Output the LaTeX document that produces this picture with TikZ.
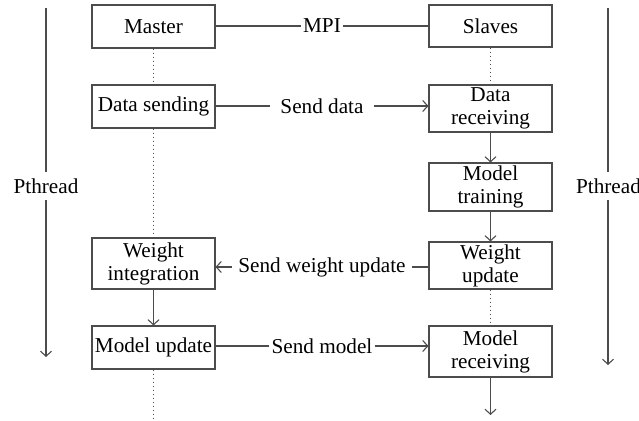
\documentclass[tikz,border=0pt]{standalone}
\usepackage{fontspec}
\setmainfont{Liberation Serif}
\usetikzlibrary{arrows.meta}
\begin{document}
\begin{tikzpicture}[x=0.5pt,y=-0.5pt,
  font=\fontsize{10.6}{11.5}\selectfont,
  ln/.style={draw=black!70, line width=0.55pt},
  box/.style={ln, minimum width=61.5pt, inner sep=1pt, align=center, text=black},
  dots/.style={draw=black!70, line width=0.55pt, dash pattern=on 0.5pt off 1.5pt},
  arr/.style={ln, -{Straight Barb[length=2.5pt,width=5.5pt]}},
  lbl/.style={inner ysep=1pt, text=black}
]
\useasboundingbox (0,0) rectangle (639,421);

% process boxes
\node[box, minimum height=21.5pt] (master) at (153.5,26.5) {Master};
\node[box, minimum height=21pt]   (slaves) at (490.5,26)   {Slaves};
\node[box, minimum height=21.5pt] (dsend)  at (153.5,106.5) {Data sending};
\node[box, minimum height=23.5pt] (drecv)  at (490.5,108.5) {Data\\receiving};
\node[box, minimum height=24pt]   (mtrain) at (490.5,187)   {Model\\training};
\node[box, minimum height=23.5pt] (wupd)   at (490.5,265.5) {Weight\\update};
\node[box, minimum height=25.5pt] (wint)   at (153.5,263.5) {Weight\\integration};
\node[box, minimum height=21.5pt] (mupd)   at (153.5,347.5) {Model update};
\node[box, minimum height=25.5pt] (mrecv)  at (490.5,351.5) {Model\\receiving};

% message labels
\node[lbl, inner xsep=1pt] (lmpi) at (322,26)  {MPI};
\node[lbl, inner xsep=5pt] (lsd)  at (322,106) {Send data};
\node[lbl, inner xsep=3pt] (lswu) at (322,267) {Send weight update};
\node[lbl, inner xsep=1pt] (lsm)  at (322,346) {Send model};

% messages between master and slaves
\draw[ln]  (master.east |- lmpi) -- (lmpi.west);
\draw[ln]  (lmpi.east) -- (slaves.west |- lmpi);
\draw[ln]  (dsend.east |- lsd) -- (lsd.west);
\draw[arr] (lsd.east) -- (drecv.west |- lsd);
\draw[ln]  (wupd.west |- lswu) -- (lswu.east);
\draw[arr] (lswu.west) -- (wint.east |- lswu);
\draw[ln]  (mupd.east |- lsm) -- (lsm.west);
\draw[arr] (lsm.east) -- (mrecv.west |- lsm);

% local flow
\draw[arr] (drecv) -- (mtrain);
\draw[arr] (mtrain) -- (wupd);
\draw[arr] (wint) -- (mupd);
\coordinate (mend) at (490.5,415);
\draw[arr] (mrecv) -- (mend);

% idle stretches
\draw[dots] (master) -- (dsend);
\draw[dots] (dsend) -- (wint);
\draw[dots] (slaves) -- (drecv);
\draw[dots] (wupd) -- (mrecv);
\coordinate (mupdend) at (153.5,421);
\draw[dots] (mupd) -- (mupdend);

% thread timelines
\node[lbl, inner ysep=3pt] (lpt) at (46,186) {Pthread};
\coordinate (lptA) at (46,8);
\coordinate (lptB) at (46,357);
\draw[ln]  (lptA) -- (lpt.north);
\draw[arr] (lpt.south) -- (lptB);

\node[lbl, inner ysep=3pt] (rpt) at (608.5,186) {Pthread};
\coordinate (rptA) at (608,8);
\coordinate (rptB) at (608,365);
\draw[ln]  (rptA) -- (rptA |- rpt.north);
\draw[arr] (rptA |- rpt.south) -- (rptB);
\end{tikzpicture}
\end{document}
